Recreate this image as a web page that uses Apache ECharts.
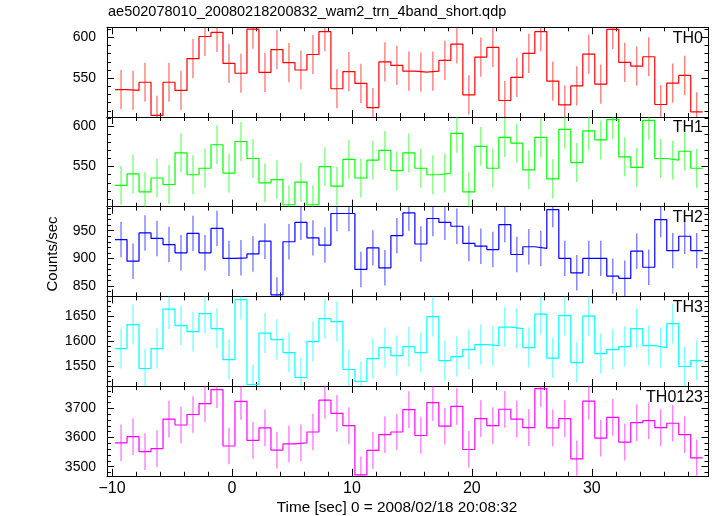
<!DOCTYPE html>
<html><head><meta charset="utf-8">
<script src="https://cdn.jsdelivr.net/npm/echarts@6/dist/echarts.min.js"></script>
<style>html,body{margin:0;padding:0;background:#fff}#c{width:717px;height:516px}</style>
</head><body><div id="c"></div>
<script>
// ---- data ----
const time = [-9.25,-8.25,-7.25,-6.25,-5.25,-4.25,-3.25,-2.25,-1.25,-0.25,
  0.75,1.75,2.75,3.75,4.75,5.75,6.75,7.75,8.75,9.75,
  10.75,11.75,12.75,13.75,14.75,15.75,16.75,17.75,18.75,19.75,
  20.75,21.75,22.75,23.75,24.75,25.75,26.75,27.75,28.75,29.75,
  30.75,31.75,32.75,33.75,34.75,35.75,36.75,37.75,38.75];
const binHalfWidth = 0.5;
const panelNames = ['TH0','TH1','TH2','TH3','TH0123'];
const th0 = [536,535,545,504.5,545,535,574,601,606,568,
  556,610,557,585,569,560,579,607,537,558,
  543.5,514,570,565.6,558.6,557.4,558.6,571.7,591.8,529.5,
  575.8,587.7,522.6,550.9,580.3,606.9,546.3,517.2,540.5,579.5,
  542.6,609.8,569.3,564.7,576.2,517.7,543.9,553.3,508.6];
const th1 = [527,541,519,536,528,567,540,548,577,542,
  581,560,530,534,503,531,503,550,526,559,
  536,558,570,545,567,548,540,542,591,519,
  575,548,586,579,546,586,535,596,555,594,
  583,608,562,549,607,560,558,569,548];
const th2 = [934,895,946,936,925,910,945,910,954,900,
  901,908,931,834,930,965,937,924,981,981,
  880,919,883,941,982,926,972,965,958,927,
  922,916,961,907,921,918,988,900,874,900,
  900,868,864,913,884,970,914,940,914];
const th3 = [1585,1633,1545,1585,1664,1631,1619,1655,1625,1563,
  1683,1513,1616,1603,1577,1527,1599,1645,1639,1543,
  1519,1565,1587,1571,1589,1577,1649,1561,1569,1583,
  1593,1591,1628,1625,1587,1654,1566,1651,1557,1650,
  1575,1583,1589,1625,1591,1587,1635,1549,1561];
const th0123 = [3582,3603,3552,3562,3663,3643,3679,3716,3764,3571,
  3724,3590,3633,3557,3578,3582,3619,3728,3683,3641,
  3472,3556,3610,3619,3696,3607,3720,3639,3707,3559,
  3665,3641,3697,3663,3634,3768,3633,3665,3527,3725,
  3598,3669,3584,3651,3658,3634,3649,3610,3530];
const errTH0 = 24, errTH1 = 24, errTH2 = 32, errTH3 = 40, errTH0123 = 63;
const yMin = [502.4, 500.6, 831.4, 1509.8, 3468.8];
const yMax = [612.3, 611.2, 993.3, 1689.4, 3776.4];
const yMajorTicks = [[550,600],[550,600],[850,900,950],[1550,1600,1650],[3500,3600,3700]];
const yMinorStep = [10,10,10,10,20];
const xMin = -10.42, xMax = 39.73;
const xMajorTicks = [-10,0,10,20,30];
const xMinorStep = 2;
const titleText = 'ae502078010_20080218200832_wam2_trn_4band_short.qdp';
const xTitle = 'Time [sec] 0 = 2008/02/18 20:08:32';
const yTitle = 'Counts/sec';

// ---- build ----
const series = [th0, th1, th2, th3, th0123];
const errs = [errTH0, errTH1, errTH2, errTH3, errTH0123];
const colors = ['#ff0000','#00ff00','#0000ff','#00ffff','#ff00ff'];
const FONT = 'Liberation Sans, Arial, Helvetica, sans-serif';
const top0 = 27.3, ph = 89.7;

function minors(lo, hi, step) {
  const out = [];
  for (let v = Math.ceil(lo / step) * step; v <= hi; v += step) out.push(v);
  return out;
}
const fmtX = v => (v < 0 ? '\u2212' + (-v) : String(v));
const fmtY = v => String(v);
const axisLineStyle = { color: '#000', width: 1 };
const lineOn = { show: true, onZero: false, lineStyle: axisLineStyle };
const lineOff = { show: false, onZero: false };

const grid = [], xAxis = [], yAxis = [], seriesOpt = [], graphic = [];
for (let k = 0; k < 5; k++) {
  grid.push({ left: 107, right: 8.5, top: top0 + ph * k, height: ph });
  const xm = minors(xMin, xMax, xMinorStep);
  const base = { type: 'value', gridIndex: k, min: xMin, max: xMax, splitLine: { show: false } };
  xAxis.push(Object.assign({}, base, { position: 'bottom', axisLine: lineOn,
    axisTick: { show: true, inside: true, length: 7, customValues: xMajorTicks, lineStyle: axisLineStyle },
    axisLabel: k === 4 ? { show: true, customValues: xMajorTicks, formatter: fmtX, fontSize: 16, color: '#000', fontFamily: FONT, margin: 5 } : { show: false } }));
  xAxis.push(Object.assign({}, base, { position: 'bottom', axisLine: lineOff,
    axisTick: { show: true, inside: true, length: 4, customValues: xm, lineStyle: axisLineStyle },
    axisLabel: { show: false } }));
  xAxis.push(Object.assign({}, base, { position: 'top', axisLine: lineOn,
    axisTick: { show: true, inside: true, length: 7, customValues: xMajorTicks, lineStyle: axisLineStyle },
    axisLabel: { show: false } }));
  xAxis.push(Object.assign({}, base, { position: 'top', axisLine: lineOff,
    axisTick: { show: true, inside: true, length: 4, customValues: xm, lineStyle: axisLineStyle },
    axisLabel: { show: false } }));

  const ym = minors(yMin[k], yMax[k], yMinorStep[k]);
  const yb = { type: 'value', gridIndex: k, min: yMin[k], max: yMax[k], splitLine: { show: false } };
  yAxis.push(Object.assign({}, yb, { position: 'left', axisLine: lineOn,
    axisTick: { show: true, inside: true, length: 7, customValues: yMajorTicks[k], lineStyle: axisLineStyle },
    axisLabel: { show: true, customValues: yMajorTicks[k], formatter: fmtY, fontSize: 14, color: '#000', fontFamily: FONT, margin: 11 } }));
  yAxis.push(Object.assign({}, yb, { position: 'left', axisLine: lineOff,
    axisTick: { show: true, inside: true, length: 4, customValues: ym, lineStyle: axisLineStyle },
    axisLabel: { show: false } }));
  yAxis.push(Object.assign({}, yb, { position: 'right', axisLine: lineOn,
    axisTick: { show: true, inside: true, length: 7, customValues: yMajorTicks[k], lineStyle: axisLineStyle },
    axisLabel: { show: false } }));
  yAxis.push(Object.assign({}, yb, { position: 'right', axisLine: lineOff,
    axisTick: { show: true, inside: true, length: 4, customValues: ym, lineStyle: axisLineStyle },
    axisLabel: { show: false } }));

  const vals = series[k];
  const stepData = time.map((t, i) => [t - binHalfWidth, vals[i]]);
  stepData.push([time[time.length - 1] + binHalfWidth, vals[vals.length - 1]]);
  const col = colors[k];
  seriesOpt.push({ type: 'line', step: 'end', xAxisIndex: 4 * k, yAxisIndex: 4 * k,
    data: stepData, symbol: 'none', clip: true, silent: true, z: 3,
    lineStyle: { color: col, width: 1.2 } });
  const e = errs[k];
  seriesOpt.push({ type: 'custom', xAxisIndex: 4 * k, yAxisIndex: 4 * k, clip: true, silent: true, z: 2,
    data: time.map((t, i) => [t, vals[i], e]),
    renderItem: (params, api) => {
      const t = api.value(0), v = api.value(1), er = api.value(2);
      const p1 = api.coord([t, v - er]), p2 = api.coord([t, v + er]);
      return { type: 'line', shape: { x1: p1[0], y1: p1[1], x2: p2[0], y2: p2[1] },
        style: { stroke: col, lineWidth: 1.3, opacity: 0.55 } };
    } });

  graphic.push({ type: 'text', right: 14, top: top0 + ph * k + 3, z: 10,
    style: { text: panelNames[k], fontSize: 16, fontFamily: FONT, fill: '#000' } });
}

graphic.push({ type: 'text', left: 108, top: 4,
  style: { text: titleText, fontSize: 14.5, fontFamily: FONT, fill: '#000' } });
graphic.push({ type: 'text', x: 397, y: 508,
  style: { text: xTitle, fontSize: 15.3, fontFamily: FONT, fill: '#000', align: 'center', verticalAlign: 'middle' } });
graphic.push({ type: 'text', x: 53, y: 254, rotation: Math.PI / 2,
  style: { text: yTitle, fontSize: 15, fontFamily: FONT, fill: '#000', align: 'center', verticalAlign: 'middle' } });

const chart = echarts.init(document.getElementById('c'), null, { renderer: 'canvas' });
chart.setOption({ animation: false, backgroundColor: '#fff', grid, xAxis, yAxis, series: seriesOpt, graphic });
</script>
</body></html>
